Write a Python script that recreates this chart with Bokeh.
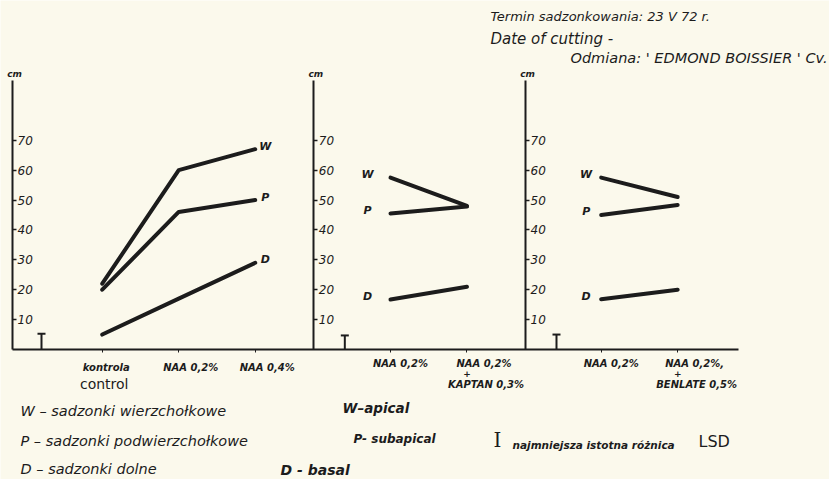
from bokeh.plotting import figure
from bokeh.models import Range1d, LinearAxis, FixedTicker, CustomJSTickFormatter
from bokeh.core.properties import value
from bokeh.embed import file_html
from bokeh.resources import INLINE

# ---------------- data ----------------
series = ["W", "P", "D"]
y_ticks = [10, 20, 30, 40, 50, 60, 70]

cats1 = ["kontrola", "NAA 0,2%", "NAA 0,4%"]
cats1_en = ["control", "", ""]
W1 = [22, 60, 67]
P1 = [20, 46, 50]
D1 = [5, 17, 29]

cats2 = ["NAA 0,2%", "NAA 0,2%"]
cats2_add = ["", "KAPTAN 0,3%"]
W2 = [57.5, 48]
P2 = [45.5, 47.8]
D2 = [16.7, 21]

cats3 = ["NAA 0,2%", "NAA 0,2%,"]
cats3_add = ["", "BENLATE 0,5%"]
W3 = [57.5, 51]
P3 = [45, 48.3]
D3 = [16.8, 20]

lsd = [5.3, 4.7, 5.0]

# ---------------- layout ----------------
PX_X = 76.5      # pixels per category slot
PX_Y = 2.99      # pixels per cm
X0_PX = 12       # page x of the first y axis
Y0_PX = 349      # page y of the baseline
W_FIG, H_FIG = 829, 479

def X(px):
    return (px - X0_PX) / PX_X

def Y(py):
    return (Y0_PX - py) / PX_Y

axis_x = [0.0, 3.939, 6.706]
first_cat = [1.173, 4.941, 7.695]
lsd_x = [0.379, 4.344, 7.111]
x_end = 9.484

INK = "#1c1c1c"
BG = "#fbf9ec"
FONT = value("DejaVu Sans")

p = figure(width=W_FIG, height=H_FIG, output_backend="svg", toolbar_location=None,
           x_range=Range1d(X(0), X(W_FIG)), y_range=Range1d(Y(H_FIG), Y(0)),
           x_axis_type=None, y_axis_type=None, min_border=0,
           background_fill_color=BG, border_fill_color=BG, outline_line_color=None)
p.xgrid.visible = False
p.ygrid.visible = False

# y axes (one per panel)
for ax_x in axis_x:
    ax = LinearAxis(fixed_location=ax_x, bounds=(0, 90), ticker=FixedTicker(ticks=y_ticks),
                    axis_line_width=2, axis_line_color=INK,
                    major_tick_out=4, major_tick_in=0, major_tick_line_width=1.5,
                    major_tick_line_color=INK,
                    minor_tick_out=0, minor_tick_in=0, major_label_standoff=1,
                    major_label_text_font="DejaVu Sans", major_label_text_font_style="italic",
                    major_label_text_font_size="12px", major_label_text_color=INK)
    p.add_layout(ax, "right")
    p.text(x=[ax_x], y=[90.5], text=["cm"], text_font=FONT, text_font_style="bold italic",
           text_font_size="9px", text_align="center", text_baseline="bottom", text_color=INK,
           x_offset=2)

# x axis (shared baseline)
cat_positions = [first_cat[0] + i for i in range(len(cats1))] + \
                [first_cat[1] + i for i in range(len(cats2))] + \
                [first_cat[2] + i for i in range(len(cats3))]
xa = LinearAxis(fixed_location=0, bounds=(0, x_end), ticker=FixedTicker(ticks=cat_positions),
                axis_line_width=2, axis_line_color=INK, major_tick_out=3, major_tick_in=0,
                major_tick_line_color=INK, minor_tick_out=0, minor_tick_in=0,
                formatter=CustomJSTickFormatter(code="return ''"))
p.add_layout(xa, "below")

panels = [
    (cats1, [W1, P1, D1]),
    (cats2, [W2, P2, D2]),
    (cats3, [W3, P3, D3]),
]

for k, (cats, vals) in enumerate(panels):
    xs = [first_cat[k] + i for i in range(len(cats))]
    for name, ys in zip(series, vals):
        p.line(xs, ys, line_width=4, line_color=INK, line_cap="round", line_join="round")
        if k == 0:
            lx, ly = xs[-1] + 10 / PX_X, ys[-1]
        elif k == 1:
            lx, ly = xs[0] - 23 / PX_X, ys[0]
        else:
            lx, ly = xs[0] - 15 / PX_X, ys[0]
        p.text(x=[lx], y=[ly], text=[name], text_font=FONT, text_font_style="bold italic",
               text_font_size="11px", text_align="center", text_baseline="middle",
               text_color=INK, y_offset=-3)
    # LSD marker
    p.segment(x0=[lsd_x[k]], y0=[0], x1=[lsd_x[k]], y1=[lsd[k]], line_width=2, line_color=INK)
    p.scatter(x=[lsd_x[k]], y=[lsd[k]], marker="dash", size=8, line_width=2, line_color=INK)

# category labels
def cat_text(x, y_px, s, size, style="bold italic", dx=0):
    p.text(x=[x], y=[Y(y_px)], text=[s], text_font=FONT, text_font_style=style,
           text_font_size=size, text_align="center", text_baseline="middle",
           text_color=INK, x_offset=dx)

for i, c in enumerate(cats1):
    x = first_cat[0] + i
    cat_text(x, 367, c, "10px" if i == 0 else "10px", dx=4 if i == 0 else 12)
    if cats1_en[i]:
        cat_text(x, 383, cats1_en[i], "14px", style="normal", dx=2)

for k, (cats, adds) in ((1, (cats2, cats2_add)), (2, (cats3, cats3_add))):
    for i, c in enumerate(cats):
        x = first_cat[k] + i
        cat_text(x, 363, c, "10px", dx=10 if i == 0 else 17)
        if adds[i]:
            cat_text(x, 373, "+", "9px", dx=0)
            cat_text(x, 384, adds[i], "10px", dx=19)

# free texts (page pixel positions)
def free_text(px, py, s, size, style="italic", align="left", font="DejaVu Sans"):
    p.text(x=[X(px)], y=[Y(py)], text=[s], text_font=value(font), text_font_style=style,
           text_font_size=size, text_align=align, text_baseline="middle", text_color=INK)

free_text(490, 16, "Termin  sadzonkowania:  23 V 72 r.", "13px")
free_text(490, 38, "Date  of  cutting  -", "15px")
free_text(570, 57, "Odmiana: ' EDMOND BOISSIER '   Cv.", "14.5px")

free_text(20, 410, "W – sadzonki wierzchołkowe", "14.5px")
free_text(20, 440, "P – sadzonki podwierzchołkowe", "14.5px")
free_text(20, 468, "D – sadzonki dolne", "14.5px")
free_text(342, 407, "W–apical", "13.5px", style="bold italic")
free_text(353, 438, "P- subapical", "12px", style="bold italic")
free_text(280, 469, "D - basal", "14px", style="bold italic")
free_text(497, 439, "I", "20px", style="normal", align="center", font="DejaVu Serif")
free_text(512, 444, "najmniejsza  istotna  różnica", "10.5px", style="bold italic")
free_text(698, 441, "LSD", "16px", style="normal")

html = file_html(p, INLINE)
html = html.replace("<body>", '<body style="background:%s">' % BG, 1)
open("out.html", "w").write(html)
